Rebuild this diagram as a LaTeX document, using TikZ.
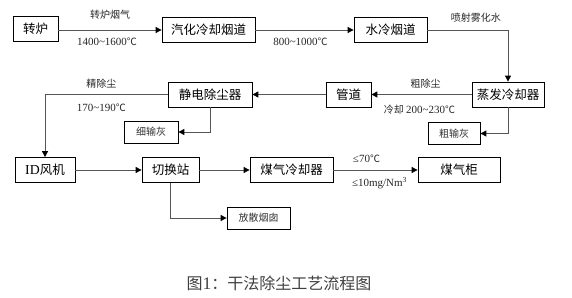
\documentclass[tikz,border=0pt]{standalone}
\usepackage{fontspec}
\setmainfont{Noto Sans CJK SC}
\newfontfamily\numfont{Liberation Serif}[Scale=1.1]
\usetikzlibrary{arrows.meta, positioning}
\definecolor{wire}{HTML}{555555}
\newcommand\tld{\textasciitilde}
\newcommand\degc{{\rmfamily ℃}}
\tikzset{
	unit/.style={draw=black, line width=0.8pt, fill=white, inner sep=0pt,
		minimum height=25pt, align=center, font=\fontsize{12.5}{12.5}\selectfont},
	ash/.style={unit, minimum height=22pt, font=\fontsize{10}{10}\selectfont, text=black!80},
	arr/.style={-{Triangle[length=6pt,width=6pt,color=black]}, line width=1pt, wire},
	note/.style={inner sep=0pt, text=black!85, font=\fontsize{10}{10}\selectfont},
}

\begin{document}
\begin{tikzpicture}[x=1pt, y=-1pt]
			\useasboundingbox (0,0) rectangle (572,297);
			\node[unit, minimum width=45pt] (furnace) at (35.5,29) {转炉};
			\node[unit, minimum width=93pt] (vapflue) at (208.5,30) {汽化冷却烟道};
			\node[unit, minimum width=73pt] (waterflue) at (390.5,30) {水冷烟道};
			\node[unit, minimum width=72pt] (evap) at (508,94.5) {蒸发冷却器};
			\node[unit, minimum width=45pt] (pipe) at (348.5,94.5) {管道};
			\node[unit, minimum width=84pt] (esp) at (210,94.5) {静电除尘器};
			\node[ash, minimum width=52pt] (coarse) at (454,133.5) {粗输灰};
			\node[ash, minimum width=54pt] (fine) at (151,132) {细输灰};
			\node[unit, minimum width=60pt] (fan) at (45,170) {{\numfont ID}风机};
			\node[unit, minimum width=57pt] (switch) at (170.5,170) {切换站};
			\node[unit, minimum width=83pt] (gascool) at (291.5,170) {煤气冷却器};
			\node[unit, minimum width=82pt] (holder) at (459,170) {煤气柜};
			\node[ash, minimum width=63pt] (stack) at (258.5,218) {放散烟囱};

			\draw[arr] (furnace.east |- vapflue.west) -- node[note, above=10pt]{转炉烟气}
			node[note, below=7pt, xshift=-3pt]{\numfont 1400\tld1600\degc} (vapflue.west);
			\draw[arr] (vapflue) -- node[note, below=7pt, xshift=-4pt]{\numfont 800\tld1000\degc} (waterflue);
			\draw[arr] (waterflue.east) -| node[note, pos=0.3, above=7pt]{喷射雾化水} (evap.north);
			\draw[arr] (evap) -- node[note, above=6pt, xshift=4pt]{粗除尘}
			node[note, below=10pt, xshift=-2pt]{冷却 {\numfont 200\tld230\degc}} (pipe);
			\draw[arr] (evap.south) |- (coarse.east);
			\draw[arr] (pipe) -- (esp);
			\draw[arr] (esp.south) |- (fine.east);
			\draw[arr] (esp.west) -| node[note, pos=0.27, above=6pt]{精除尘}
			node[note, pos=0.27, below=9pt]{\numfont 170\tld190\degc} (fan.north);
			\draw[arr] (fan) -- (switch);
			\draw[arr] (switch) -- (gascool);
			\draw[arr] (switch.south) |- (stack.west);
			\draw[arr] (gascool) -- node[note, above=7pt, xshift=-9pt]{\numfont ≤70\degc}
			node[note, below=7pt, xshift=4pt]{\numfont ≤10mg/Nm\textsuperscript{3}} (holder);

			\node[text=black!75, font=\fontsize{16}{16}\selectfont] (caption) at (279,283) {图{\numfont 1}：干法除尘工艺流程图};
		\end{tikzpicture}
\end{document}
